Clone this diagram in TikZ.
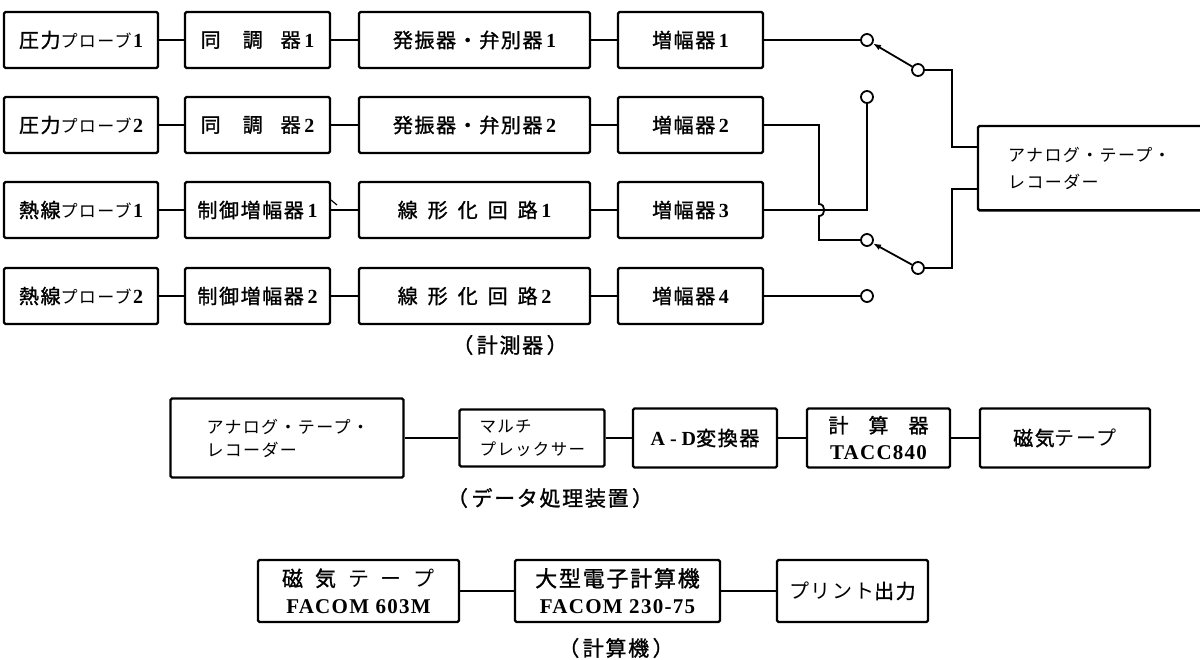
\documentclass[tikz,border=0pt]{standalone}
\usepackage{fontspec}
\setmainfont{Liberation Serif}
\newfontfamily\jpk[FakeBold=1.2,LetterSpace=8]{Noto Sans CJK JP}
\newfontfamily\jpt[LetterSpace=8]{Noto Sans CJK JP}
\newfontfamily\latf[LetterSpace=6]{Liberation Serif}
\usetikzlibrary{arrows.meta}
\newcommand\JK[1]{{\jpk #1}}
\newcommand\JT[1]{{\jpt #1}}
\tikzset{
  blk/.style={draw, line width=2.4pt, rounded corners=1.5pt, inner sep=0pt,
    font=\fontsize{20}{27}\selectfont, align=center},
  wire/.style={line width=1.8pt},
  term/.style={circle, draw, line width=1.8pt, minimum size=12pt, inner sep=0pt},
  blade/.style={line width=1.8pt, -{Latex[length=8pt,width=6pt]}},
  lbl/.style={font=\fontsize{21}{24}\selectfont, inner sep=0pt},
}
\begin{document}
\begin{tikzpicture}[x=1pt,y=-1pt]
\useasboundingbox[fill=white] (0,0) rectangle (1200,659);

% ---------- measuring section ----------
% column 1
\node[blk, minimum width=154pt, minimum height=56pt] (p1) at (81,40)
  {\JK{圧力}{\jpt\fontsize{17}{17}\selectfont プローブ}\textbf{1}};
\node[blk, minimum width=154pt, minimum height=56pt] (p2) at (81,125)
  {\JK{圧力}{\jpt\fontsize{17}{17}\selectfont プローブ}\textbf{2}};
\node[blk, minimum width=154pt, minimum height=56pt] (p3) at (81,210)
  {\JK{熱線}{\jpt\fontsize{17}{17}\selectfont プローブ}\textbf{1}};
\node[blk, minimum width=154pt, minimum height=56pt] (p4) at (81,296)
  {\JK{熱線}{\jpt\fontsize{17}{17}\selectfont プローブ}\textbf{2}};
% column 2
\node[blk, minimum width=145pt, minimum height=56pt] (s1) at (257.5,40)
  {\JK{同}\hspace{22pt}\JK{調}\hspace{18pt}\JK{器}\hspace{2pt}\textbf{1}};
\node[blk, minimum width=145pt, minimum height=56pt] (s2) at (257.5,125)
  {\JK{同}\hspace{22pt}\JK{調}\hspace{18pt}\JK{器}\hspace{2pt}\textbf{2}};
\node[blk, minimum width=145pt, minimum height=56pt] (s3) at (257.5,210)
  {\JK{制御増幅器}\hspace{2pt}\textbf{1}};
\node[blk, minimum width=145pt, minimum height=56pt] (s4) at (257.5,296)
  {\JK{制御増幅器}\hspace{2pt}\textbf{2}};
% column 3
\node[blk, minimum width=231pt, minimum height=56pt] (o1) at (474.5,40)
  {\JK{発振器・弁別器}\hspace{2pt}\textbf{1}};
\node[blk, minimum width=231pt, minimum height=56pt] (o2) at (474.5,125)
  {\JK{発振器・弁別器}\hspace{2pt}\textbf{2}};
\node[blk, minimum width=231pt, minimum height=56pt] (o3) at (474.5,210)
  {\JK{線}\hspace{10pt}\JK{形}\hspace{10pt}\JK{化}\hspace{10pt}\JK{回}\hspace{10pt}\JK{路}\hspace{2pt}\textbf{1}};
\node[blk, minimum width=231pt, minimum height=56pt] (o4) at (474.5,296)
  {\JK{線}\hspace{10pt}\JK{形}\hspace{10pt}\JK{化}\hspace{10pt}\JK{回}\hspace{10pt}\JK{路}\hspace{2pt}\textbf{2}};
% column 4
\node[blk, minimum width=145pt, minimum height=56pt] (a1) at (690.5,40)
  {\JK{増幅器}\hspace{2pt}\textbf{1}};
\node[blk, minimum width=145pt, minimum height=56pt] (a2) at (690.5,125)
  {\JK{増幅器}\hspace{2pt}\textbf{2}};
\node[blk, minimum width=145pt, minimum height=56pt] (a3) at (690.5,210)
  {\JK{増幅器}\hspace{2pt}\textbf{3}};
\node[blk, minimum width=145pt, minimum height=56pt] (a4) at (690.5,296)
  {\JK{増幅器}\hspace{2pt}\textbf{4}};

\foreach \r in {1,2,3,4}{
  \draw[wire] (p\r.east) -- (s\r.west);
  \draw[wire] (s\r.east) -- (o\r.west);
  \draw[wire] (o\r.east) -- (a\r.west);
}
% small stray mark
\draw[line width=1.2pt] (331,200) -- (337,205);

% switch terminals
\node[term] (c1) at (867,40) {};
\node[term] (c2) at (918,70) {};
\node[term] (c3) at (867,97) {};
\node[term] (c4) at (867,240) {};
\node[term] (c5) at (918,268) {};
\node[term] (c6) at (867,296) {};

% analog tape recorder (right edge beyond the page)
\node[anchor=north west, minimum height=84pt, text width=163pt, inner xsep=30pt,
  inner ysep=0pt, align=left, font=\fontsize{17}{27}\selectfont] (atr) at (978,126)
  {\JT{アナログ・テープ・}\\\JT{レコーダー}};
\draw[line width=2.4pt, rounded corners=1.5pt] (atr.north east) -| (atr.south west) -- (atr.south east);

\draw[wire] (a1.east) -- (c1.west);
\draw[wire] (a2.east) -- (819,125) -- (819,204) .. controls (826,204) and (826,216) .. (819,216) |- (c4.west);
\draw[wire] (a3.east) -| (c3.south);
\draw[wire] (a4.east) -- (c6.west);
\draw[blade] (c2) -- (c1);
\draw[blade] (c5) -- (c4);
\draw[wire] (c2.east) -| (952,147) -- (atr.west |- 0,147);
\draw[wire] (c5.east) -| (952,189) -- (atr.west |- 0,189);

\node[lbl] (L1) at (510,345) {\JK{（\,計測器\,）}};

% ---------- data processing ----------
\node[blk, minimum width=232pt, minimum height=79pt, text width=161pt, inner xsep=36pt,
  align=left, font=\fontsize{17}{23}\selectfont] (m1) at (287,438)
  {\JT{アナログ・テープ・}\\\JT{レコーダー}};
\node[blk, minimum width=145pt, minimum height=57pt, text width=105pt, inner xsep=20pt,
  align=left, font=\fontsize{16.5}{23}\selectfont] (m2) at (532,438)
  {\JT{マルチ}\\\JT{プレックサー}};
\node[blk, minimum width=144pt, minimum height=59pt] (m3) at (705,438)
  {\textbf{A - D}\JK{変換器}};
\node[blk, minimum width=143pt, minimum height=59pt] (m4) at (878.5,438)
  {\JK{計}\hspace{20pt}\JK{算}\hspace{20pt}\JK{器}\\{\latf\bfseries\fontsize{21}{27}\selectfont TACC840}};
\node[blk, minimum width=170pt, minimum height=59pt] (m5) at (1065,438)
  {\JK{磁気}\JT{テープ}};
\draw[wire] (m1.east) -- (m2.west);
\draw[wire] (m2.east) -- (m3.west);
\draw[wire] (m3.east) -- (m4.west);
\draw[wire] (m4.east) -- (m5.west);
\node[lbl] (L2) at (550,498) {\JK{（\,データ処理装置\,）}};

% ---------- computer ----------
\node[blk, minimum width=201pt, minimum height=62pt, font=\fontsize{21}{27}\selectfont] (b1) at (358.5,591)
  {\JK{磁}\hspace{12pt}\JK{気}\hspace{12pt}\JT{テ}\hspace{12pt}\JT{ー}\hspace{12pt}\JT{プ}\\{\latf\bfseries FACOM 603M}};
\node[blk, minimum width=205pt, minimum height=62pt, font=\fontsize{22}{27}\selectfont] (b2) at (617.5,591)
  {\JK{大型電子計算機}\\{\latf\bfseries\fontsize{21}{27}\selectfont FACOM 230-75}};
\node[blk, minimum width=151pt, minimum height=62pt] (b3) at (852.5,591)
  {\JT{プリント}\JK{出力}};
\draw[wire] (b1.east) -- (b2.west);
\draw[wire] (b2.east) -- (b3.west);
\node[lbl] (L3) at (616,648) {\JK{（\,計算機\,）}};
\end{tikzpicture}
\end{document}
